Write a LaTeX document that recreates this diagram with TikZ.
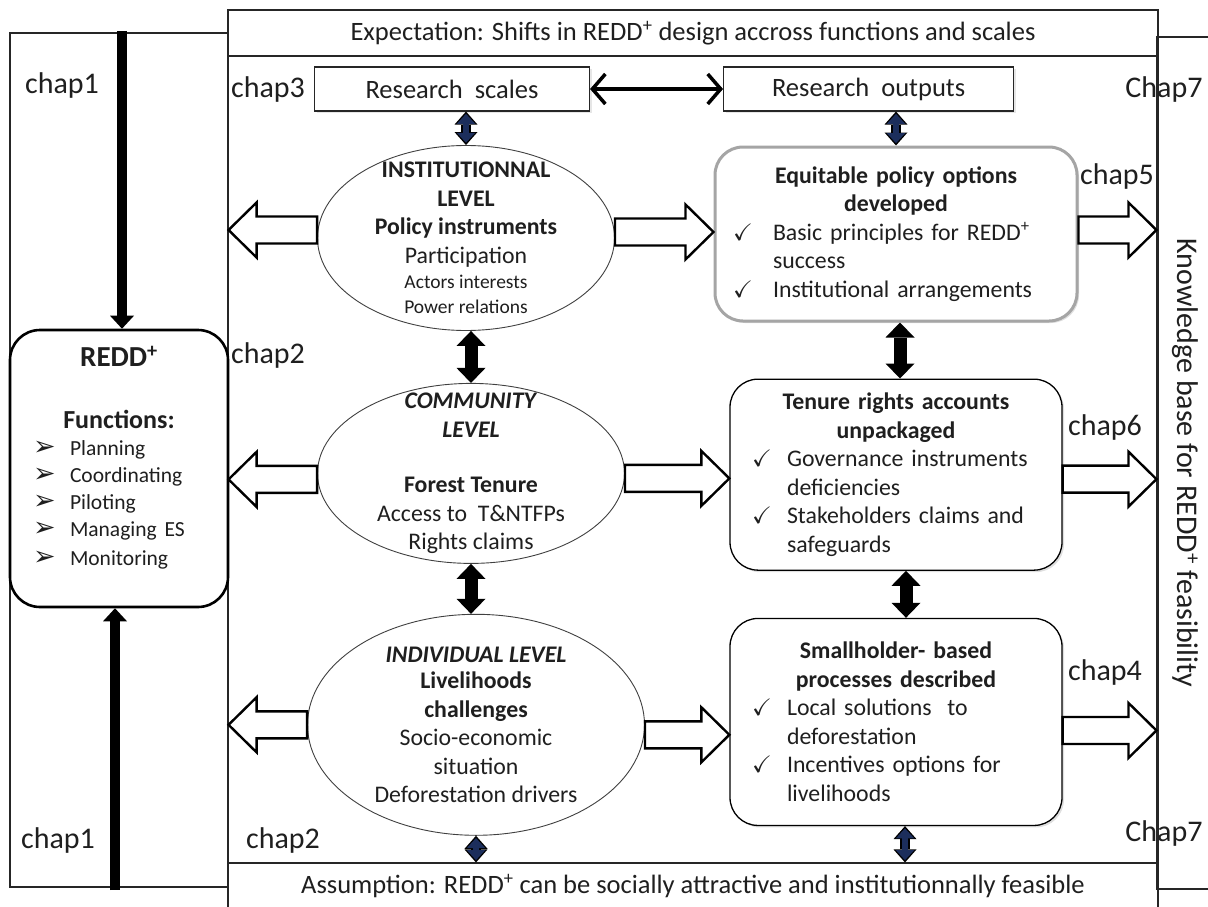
\documentclass[tikz,border=0pt]{standalone}
\usepackage{amssymb}
\usepackage{fontspec}
\setmainfont{Carlito}
\newfontfamily\dingfont{DejaVu Sans}
\usetikzlibrary{shapes.geometric}
\usetikzlibrary{arrows.meta}
\usetikzlibrary{calc}
\usetikzlibrary{shadows}
\usetikzlibrary{positioning}

\definecolor{navyfill}{RGB}{28,46,92}
\definecolor{boxgray}{RGB}{165,165,165}

\newcommand\bodyfont{\fontsize{23.8}{28.5}\selectfont}
\newcommand\smallerfont{\fontsize{19.5}{24}\selectfont}
\newcommand\hdfont{\fontsize{26.5}{30}\selectfont}
\newcommand\chapfont{\fontsize{30}{36}\selectfont}
\newcommand\itemfont{\fontsize{21.5}{27}\selectfont}
\newcommand\redd{REDD\textsuperscript{+}}
\newcommand\bul{\makebox[37pt][l]{\dingfont\fontsize{27}{27}\selectfont ➢}}
\newcommand\chk[1][35pt]{\makebox[#1][l]{$\checkmark$}}

\begin{document}
\begin{tikzpicture}[x=1pt, y=-1pt,
    every node/.style={font=\bodyfont, text=black!88},
    frame/.style={draw=black!85, line width=1.1pt},
    band/.style={frame, minimum width=930pt, minimum height=46pt, inner sep=0pt, font=\hdfont},
    scalebox/.style={frame, fill=white, minimum height=44pt, inner sep=0pt, font=\hdfont,
        drop shadow={opacity=0.2, shadow xshift=2pt, shadow yshift=-2pt}},
    lvl/.style={ellipse, draw=black!75, line width=0.9pt, fill=white, inner sep=-40pt, align=center},
    outbox/.style={rectangle, rounded corners=28pt, draw, line width=1.3pt, fill=white, inner sep=0pt,
        drop shadow={opacity=0.25, shadow xshift=2pt, shadow yshift=-2pt}},
    reddbox/.style={rectangle, rounded corners=30pt, draw, line width=2.6pt, fill=white, inner sep=0pt,
        minimum width=218pt, minimum height=277pt},
    chap/.style={font=\chapfont, inner sep=0pt},
    hollow/.style={draw, line width=2.4pt, fill=white, line join=miter,
        to path={let \p1=(\tikztostart), \p2=(\tikztotarget), \n1={ifthenelse(\x2>\x1,1,-1)} in
            ({\x1},{\y1+13.5pt}) -- ({\x2-28pt*\n1},{\y1+13.5pt}) -- ({\x2-28pt*\n1},{\y1+27.5pt})
            -- ({\x2},{\y1}) -- ({\x2-28pt*\n1},{\y1-27.5pt}) -- ({\x2-28pt*\n1},{\y1-13.5pt})
            -- ({\x1},{\y1-13.5pt}) -- cycle}},
    dbl/.style={line width=13pt,
        {Triangle[width=29pt,length=15pt,line width=0pt]}-{Triangle[width=29pt,length=15pt,line width=0pt]}},
    navydbl/.style={line width=9.5pt,
        {Triangle[width=23pt,length=13pt,line width=0pt]}-{Triangle[width=23pt,length=13pt,line width=0pt]},
        postaction={draw=navyfill, line width=6.5pt, shorten <=2.3pt, shorten >=2.3pt,
        {Triangle[width=18.5pt,length=10pt,line width=0pt]}-{Triangle[width=18.5pt,length=10pt,line width=0pt]}}},
    chaparrow/.style={line width=10.5pt, -{Triangle[width=24pt,length=13pt,line width=0pt]}},
    linkarrow/.style={line width=3.5pt, {Straight Barb[length=13pt,width=30pt]}-{Straight Barb[length=13pt,width=30pt]}}
  ]
        \useasboundingbox (0,0) rectangle (1208,907);
        \clip (0,0) rectangle (1208,907);

        \node[frame, minimum width=218pt, minimum height=854pt] (lp) at (119,460) {};
        \node[frame, minimum width=66pt, minimum height=852pt] (rp) at (1190,463) {};
        \draw[frame] (228,10) rectangle (1158,912);
        \node[band] (expect) at (693,33) {Expectation: Shifts in \redd\ design accross functions and scales};
        \node[band] (assume) at (693,886) {Assumption: \redd\ can be socially attractive and institutionnally feasible};

        \node[chap] (c1a) at (62,86) {chap1};
        \node[chap] (c3) at (268,90) {chap3};
        \node[chap] (c2a) at (268,355) {chap2};
        \node[chap] (c1b) at (58,840) {chap1};
        \node[chap] (c2b) at (283,840) {chap2};
        \node[chap] (c7a) at (1164,90) {Chap7};
        \node[chap] (c5) at (1117,177) {chap5};
        \node[chap] (c6) at (1105,427) {chap6};
        \node[chap] (c4) at (1105,672) {chap4};
        \node[chap] (c7b) at (1164,833) {Chap7};
        \node[chap, rotate=-90] (kb) at (1185,463) {Knowledge base for \redd\ feasibility};

        \node[scalebox, minimum width=275pt] (rs) at (452,89) {Research\ \ scales};
        \node[scalebox, minimum width=290pt, right=133pt of rs] (ro) {Research\ \ outputs};

        \node[lvl, minimum width=297pt, minimum height=185pt] (inst) at (466,238)
            {\textbf{INSTITUTIONNAL}\\ \textbf{LEVEL}\\ \textbf{Policy instruments}\\ Participation\\[-3pt]
             {\smallerfont Actors interests}\\[-4pt] {\smallerfont Power relations}};
        \node[lvl, minimum width=307pt, minimum height=180pt, below=52pt of inst, xshift=5pt] (comm)
            {\textbf{\textit{COMMUNITY}}\\ \textbf{\textit{LEVEL}}\\[27pt] \textbf{Forest Tenure}\\
             Access to\ \ T\&NTFPs\\ Rights claims};
        \node[lvl, minimum width=337pt, minimum height=221pt, below=50pt of comm, xshift=5pt] (indiv)
            {\textbf{\textit{INDIVIDUAL LEVEL}}\\[-2pt] \textbf{Livelihoods}\\ \textbf{challenges}\\
             Socio-economic\\ situation\\ Deforestation drivers};

        \node[outbox, draw=boxgray, line width=3pt, minimum width=362pt, minimum height=174pt,
              text width=326pt] (equit) at (896,234)
            {{\centering\bfseries Equitable policy options\\ developed\par}
             \raggedright
             \chk[40pt]Basic principles for \redd\\
             \hspace*{40pt}success\\
             \chk[40pt]Institutional arrangements};
        \node[outbox, minimum width=332pt, minimum height=191pt, text width=288pt, below=56pt of equit] (tenure)
            {{\centering\bfseries Tenure rights accounts\\ unpackaged\par}
             \raggedright
             \chk Governance instruments\\
             \hspace*{35pt}deficiencies\\
             \chk Stakeholders claims and\\
             \hspace*{35pt}safeguards};
        \node[outbox, minimum width=332pt, minimum height=207pt, text width=288pt, below=47pt of tenure] (small)
            {{\centering\bfseries Smallholder- based\\ processes described\par}
             \raggedright
             \chk Local solutions\ \ to\\
             \hspace*{35pt}deforestation\\
             \chk Incentives options for\\
             \hspace*{35pt}livelihoods};

        \node[reddbox, text width=172pt] (redd) at (119,468.5)
            {{\centering\fontsize{29}{32}\selectfont\bfseries \redd\par}
             \vspace{32pt}
             {\centering\fontsize{26}{30}\selectfont\bfseries Functions:\par}
             \raggedright\itemfont
             \bul Planning\\ \bul Coordinating\\ \bul Piloting\\ \bul Managing ES\\
             \bul Monitoring\rule[-25pt]{0pt}{0pt}};

        \coordinate (ctop) at (122,31);
        \coordinate (cbot) at (115,890);
        \draw[chaparrow] (ctop) -- (ctop |- redd.north);
        \draw[chaparrow] (cbot) -- (cbot |- redd.south);

        \draw[linkarrow] (rs) -- (ro);
        \draw[navydbl] (rs.south -| inst.north) -- (inst.north);
        \draw[navydbl] (ro.south -| equit.north) -- (equit.north);
        \draw[dbl] (comm.north |- inst.south) -- (comm.north);
        \draw[dbl] (comm.south) -- (comm.south |- indiv.north);
        \draw[navydbl] (indiv.south) -- (indiv.south |- assume.north);
        \draw[dbl] ([xshift=4pt]equit.south) -- ([xshift=4pt]tenure.north);
        \draw[dbl] ([xshift=10pt]tenure.south) -- ([xshift=10pt]small.north);
        \draw[navydbl] ([xshift=9pt]small.south) -- ([xshift=9pt]small.south |- assume.north);

        \draw[hollow] ([yshift=8pt]inst.west) to (lp.east);
        \draw[hollow] ([yshift=-6pt]comm.west) to (lp.east);
        \draw[hollow] (indiv.west) to (lp.east);
        \draw[hollow] ([yshift=6pt]inst.east) to (equit.west);
        \draw[hollow] ([yshift=-5pt]comm.east) to (tenure.west);
        \draw[hollow] ([yshift=-10pt]indiv.east) to (small.west);
        \draw[hollow] ([yshift=4pt]equit.east) to (rp.west);
        \draw[hollow] ([yshift=-4.5pt]tenure.east) to (rp.west);
        \draw[hollow] ([yshift=-8.5pt]small.east) to (rp.west);
\end{tikzpicture}
\end{document}
